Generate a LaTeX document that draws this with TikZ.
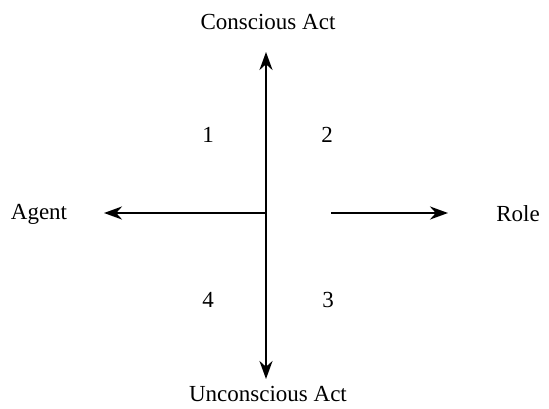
\documentclass[tikz,border=0pt]{standalone}
\usepackage{fontspec}
\setmainfont{Liberation Serif}
\usetikzlibrary{arrows.meta}
\begin{document}
\begin{tikzpicture}[x=1pt,y=-1pt,
  axis/.style={line width=2.6pt,-{Stealth[length=18pt,width=13pt]}},
  lbl/.style={font=\fontsize{23}{26}\selectfont,inner sep=0pt},
  num/.style={font=\fontsize{23}{26}\selectfont,inner sep=0pt}]
\useasboundingbox (0,0) rectangle (549,408);
\coordinate (c) at (266,213);
\coordinate (top) at (266,52);
\coordinate (bot) at (266,379);
\coordinate (left) at (104,213);
\coordinate (rs) at (331,213);
\coordinate (re) at (448,213);
\draw[axis] (c) -- (top);
\draw[axis] (c) -- (bot);
\draw[axis] (c) -- (left);
\draw[axis] (rs) -- (re);
\node[lbl] (ca) at (268,22) {Conscious Act};
\node[lbl] (ua) at (268,394) {Unconscious Act};
\node[lbl] (ag) at (39,214) {Agent};
\node[lbl] (ro) at (518,214) {Role};
\node[num] (n1) at (208,135) {1};
\node[num] (n2) at (327,135) {2};
\node[num] (n4) at (208,300) {4};
\node[num] (n3) at (328,300) {3};
\end{tikzpicture}
\end{document}
